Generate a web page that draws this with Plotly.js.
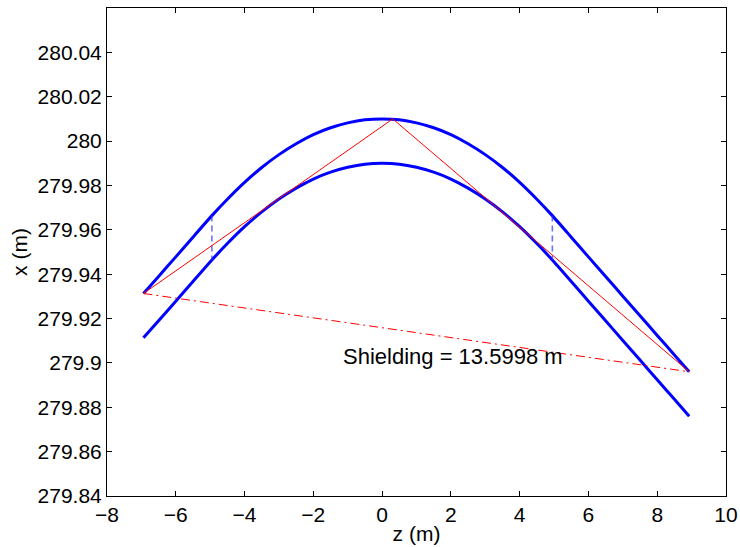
<!DOCTYPE html>
<html>
<head>
<meta charset="utf-8">
<script src="https://cdn.plot.ly/plotly-3.0.1.min.js"></script>
<style>html,body{margin:0;padding:0;background:#fff;}#chart{width:740px;height:547px;}</style>
</head>
<body>
<div id="chart"></div>
<script>
// z positions along the beam (m)
const zArc = [-6.94, -6.5, -6.0, -5.5, -4.95, -4.5, -4.0, -3.5, -3.0, -2.5, -2.0, -1.5, -1.0, -0.5, 0.0,
              0.5, 1.0, 1.5, 2.0, 2.5, 3.0, 3.5, 4.0, 4.5, 4.95, 5.5, 6.0, 6.5, 7.0, 7.5, 8.0, 8.5, 8.93];
// outer wall x (m)
const xUpper = [279.9313, 279.9390, 279.9478, 279.9567, 279.9664, 279.9738, 279.9814, 279.9881, 279.9939, 279.9988,
                280.0029, 280.0060, 280.0082, 280.0096, 280.0100, 280.0096, 280.0082, 280.0060, 280.0029, 279.9988,
                279.9939, 279.9881, 279.9814, 279.9738, 279.9664, 279.9567, 279.9478, 279.9390, 279.9301, 279.9213,
                279.9124, 279.9036, 279.8960];
// inner wall x (m)
const xLower = [279.9113, 279.9190, 279.9278, 279.9367, 279.9464, 279.9538, 279.9614, 279.9681, 279.9739, 279.9788,
                279.9829, 279.9860, 279.9882, 279.9896, 279.9900, 279.9896, 279.9882, 279.9860, 279.9829, 279.9788,
                279.9739, 279.9681, 279.9614, 279.9538, 279.9464, 279.9367, 279.9278, 279.9190, 279.9101, 279.9013,
                279.8924, 279.8836, 279.8760];
// line of sight (solid red)
const zSight = [-6.94, 0.31, 8.93];
const xSight = [279.9313, 280.0100, 279.8960];
// shielding chord (dash-dot red)
const zChord = [-6.94, 8.93];
const xChord = [279.9313, 279.8960];
// straight/arc transition markers
const zMarkL = [-4.95, -4.95];
const zMarkR = [4.95, 4.95];
const xMark = [279.9664, 279.9464];
// ticks
const xTicks = [-8, -6, -4, -2, 0, 2, 4, 6, 8, 10];
const yTicks = [279.84, 279.86, 279.88, 279.90, 279.92, 279.94, 279.96, 279.98, 280.00, 280.02, 280.04];
const yTickText = ['279.84', '279.86', '279.88', '279.9', '279.92', '279.94', '279.96', '279.98', '280', '280.02', '280.04'];
const annText = 'Shielding = 13.5998 m';

const F = 'Liberation Sans, Arial, Helvetica, sans-serif';
const blue = '#0000ff';
const traces = [
  {x: zArc, y: xUpper, mode: 'lines', line: {color: blue, width: 3, shape: 'spline', smoothing: 0.6}, hoverinfo: 'skip'},
  {x: zArc, y: xLower, mode: 'lines', line: {color: blue, width: 3, shape: 'spline', smoothing: 0.6}, hoverinfo: 'skip'},
  {x: zMarkL, y: xMark, mode: 'lines', line: {color: 'rgba(50,50,255,0.7)', width: 1.6, dash: '6px,4px'}, hoverinfo: 'skip'},
  {x: zMarkR, y: xMark, mode: 'lines', line: {color: 'rgba(50,50,255,0.7)', width: 1.6, dash: '6px,4px'}, hoverinfo: 'skip'},
  {x: zSight, y: xSight, mode: 'lines', line: {color: '#ff0000', width: 1}, hoverinfo: 'skip'},
  {x: zChord, y: xChord, mode: 'lines', line: {color: '#ff0000', width: 1, dash: '9px,4px,2px,4px'}, hoverinfo: 'skip'}
];

const layout = {
  width: 740, height: 547,
  margin: {l: 107, r: 14, t: 8, b: 51},
  paper_bgcolor: '#fff', plot_bgcolor: '#fff',
  showlegend: false,
  font: {family: F, size: 21, color: '#000'},
  xaxis: {
    range: [-8, 10], tickmode: 'array', tickvals: xTicks,
    ticks: 'inside', ticklen: 5, tickwidth: 1, tickcolor: '#000',
    showline: true, linecolor: '#000', linewidth: 1, mirror: 'ticks',
    showgrid: false, zeroline: false,
    tickfont: {family: F, size: 21, color: '#000'},
    title: {text: 'z (m)', font: {family: F, size: 21, color: '#000'}, standoff: 1}
  },
  yaxis: {
    range: [279.84, 280.06], tickmode: 'array', tickvals: yTicks, ticktext: yTickText,
    ticks: 'inside', ticklen: 5, tickwidth: 1, tickcolor: '#000',
    showline: true, linecolor: '#000', linewidth: 1, mirror: 'ticks',
    showgrid: false, zeroline: false,
    tickfont: {family: F, size: 21, color: '#000'},
    title: {text: 'x (m)', font: {family: F, size: 21, color: '#000'}, standoff: 4}
  },
  annotations: [{
    x: 2.07, y: 279.903, xref: 'x', yref: 'y', text: annText, showarrow: false,
    xanchor: 'center', yanchor: 'middle', font: {family: F, size: 22, color: '#000'}
  }]
};

Plotly.newPlot('chart', traces, layout, {staticPlot: true, displayModeBar: false});
</script>
</body>
</html>
